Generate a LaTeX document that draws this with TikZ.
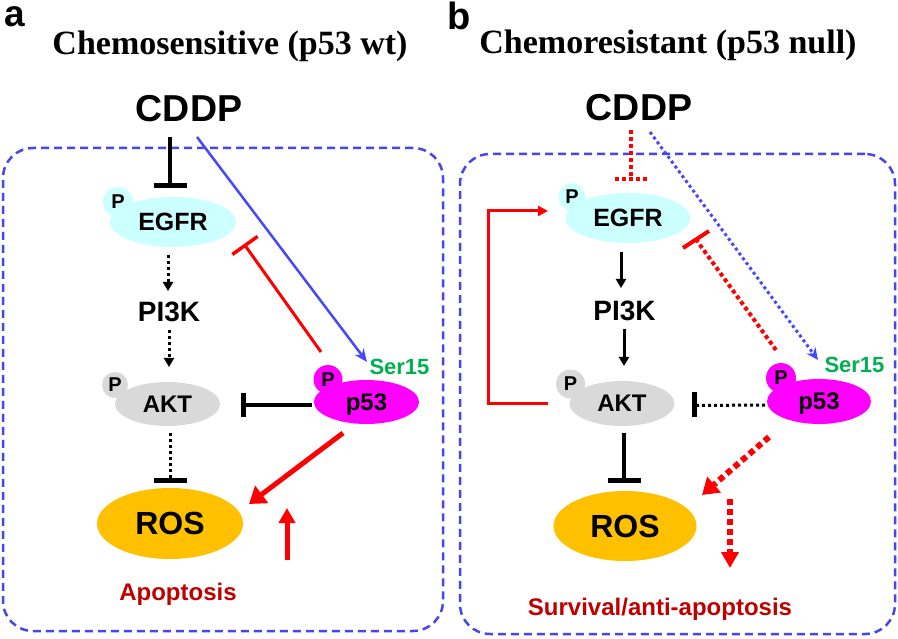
\documentclass[tikz,border=0pt]{standalone}
\usepackage{fontspec}
\newfontfamily\arialf{Liberation Sans}
\newfontfamily\timesf{Liberation Serif}
\usetikzlibrary{arrows.meta,shapes.geometric}
\definecolor{egfrc}{HTML}{CCFFFF}
\definecolor{aktc}{HTML}{D9D9D9}
\definecolor{p53c}{HTML}{FF00FF}
\definecolor{rosc}{HTML}{FFC000}
\definecolor{bluel}{HTML}{4848F8}
\definecolor{boxc}{HTML}{4646EE}
\definecolor{redl}{HTML}{FF0000}
\definecolor{dred}{HTML}{C00000}
\definecolor{serc}{HTML}{00B050}
\begin{document}
\begin{tikzpicture}[x=1pt,y=-1pt,
  every node/.style={inner sep=0pt},
  tf/.style={font=\arialf\bfseries\fontsize{#1}{#1}\selectfont},
  ttl/.style={font=\timesf\bfseries\fontsize{34}{36}\selectfont, anchor=base},
  mol/.style={ellipse, tf=24, text depth=0pt},
  pcirc/.style={circle, tf=20, text depth=0pt},
  cellbox/.style={draw=boxc, line width=2.5pt, dash pattern=on 8pt off 5pt, rounded corners=30pt},
  inh/.style={line width=3.5pt, -{Bar[width=33pt,line width=5pt]}},
  inhs/.style={line width=3.5pt, -{Bar[width=24pt,line width=5pt]}},
  kdot/.style={line width=3pt, dash pattern=on 3pt off 3pt},
  karr/.style={line width=3pt, -{Triangle[width=10pt,length=9pt]}},
  rdot/.style={redl, line width=4pt, dash pattern=on 4pt off 3pt},
  rbig/.style={redl, line width=5pt, -{Triangle[width=21pt,length=16pt]}},
]
\useasboundingbox[fill=white] (0,0) rectangle (898,639);

% ---------------- panel a ----------------
\node[cellbox, minimum width=440pt, minimum height=483pt] (cellA) at (223,389.5) {};
\node[tf=37, anchor=base west] (labA) at (4,27) {a};
\node[ttl] (titleA) at (230,55) {Chemosensitive (p53 wt)};
\node[tf=37.5, anchor=base] (cddpA) at (189,122) {CDDP};

\node[mol, fill=egfrc, minimum width=126pt, minimum height=50pt, tf=25] (egfrA) at (173,222) {EGFR};
\node[pcirc, fill=egfrc, minimum size=30pt] (pegfrA) at (118,202) {P};
\node[tf=28, anchor=base] (pi3kA) at (169,322) {PI3K};
\node[mol, fill=aktc, minimum width=105pt, minimum height=44pt] (aktA) at (167.5,404) {AKT};
\node[pcirc, fill=aktc, minimum size=26pt] (paktA) at (115,385) {P};
\node[mol, fill=p53c, minimum width=105pt, minimum height=44pt] (p53A) at (366.5,402) {p53};
\node[pcirc, fill=p53c, minimum size=29pt] (pp53A) at (328,379.5) {P};
\node[tf=22, anchor=base, text=serc] (serA) at (399.5,375) {Ser15};
\node[ellipse, fill=rosc, minimum width=146pt, minimum height=71pt, tf=32, text depth=0pt] (rosA) at (170,523.5) {ROS};
\node[tf=24, anchor=base, text=dred] (apopA) at (178,600) {Apoptosis};

\draw[inh] ([shift={(-19,15)}]cddpA.base) -- ([shift={(-3,-34)}]egfrA.center);
\draw[bluel, line width=2.5pt, -{Stealth[width=11pt,length=13pt]}] ([shift={(8,15)}]cddpA.base) -- ([shift={(0.5,-40)}]p53A.center);
\draw[redl, line width=3pt, -{Bar[width=31pt,line width=3.5pt]}] ([shift={(-45.5,-50)}]p53A.center) -- ([shift={(71,22)}]egfrA.center);
\draw[kdot, -{Triangle[width=10pt,length=9pt]}] ([shift={(-5,33)}]egfrA.center) -- ([shift={(-1,-31)}]pi3kA.base);
\draw[kdot, -{Triangle[width=10pt,length=9pt]}] ([shift={(0,8)}]pi3kA.base) -- ([shift={(1.5,-37)}]aktA.center);
\draw[inhs] ([shift={(-54.5,3)}]p53A.center) -- ([shift={(73.5,1)}]aktA.center);
\draw[kdot] ([shift={(2.5,29)}]aktA.center) -- ([shift={(0,-44)}]rosA.center);
\draw[line width=5pt] ([shift={(-16.5,-43)}]rosA.center) -- ([shift={(16.5,-43)}]rosA.center);
\draw[rbig] ([shift={(-23.5,31)}]p53A.center) -- ([shift={(79,-19.5)}]rosA.center);
\draw[redl, line width=5pt, -{Triangle[width=16pt,length=15pt]}] ([shift={(117,36.5)}]rosA.center) -- ([shift={(117,-15.5)}]rosA.center);

% ---------------- panel b ----------------
\node[cellbox, minimum width=435pt, minimum height=480pt] (cellB) at (677.5,394) {};
\node[tf=38, anchor=base west] (labB) at (447,30) {b};
\node[ttl] (titleB) at (668,54) {Chemoresistant (p53 null)};
\node[tf=37.5, anchor=base] (cddpB) at (639,121) {CDDP};

\node[mol, fill=egfrc, minimum width=125pt, minimum height=50pt, tf=25] (egfrB) at (628,218) {EGFR};
\node[pcirc, fill=egfrc, minimum size=27pt] (pegfrB) at (572,197) {P};
\node[tf=28, anchor=base] (pi3kB) at (624.5,321) {PI3K};
\node[mol, fill=aktc, minimum width=105pt, minimum height=45pt] (aktB) at (622,403.5) {AKT};
\node[pcirc, fill=aktc, minimum size=29pt] (paktB) at (570.5,384) {P};
\node[mol, fill=p53c, minimum width=104pt, minimum height=45pt] (p53B) at (819,401.5) {p53};
\node[pcirc, fill=p53c, minimum size=30pt] (pp53B) at (781,378) {P};
\node[tf=22, anchor=base, text=serc] (serB) at (854.5,373) {Ser15};
\node[ellipse, fill=rosc, minimum width=143pt, minimum height=70pt, tf=32, text depth=0pt] (rosB) at (625,526) {ROS};
\node[tf=24, anchor=base, text=dred] (survB) at (660,615) {Survival/anti-apoptosis};

\draw[rdot, line width=4.5pt] ([shift={(-8,9)}]cddpB.base) -- ([shift={(3,-39)}]egfrB.center) ++(-16,0) -- ++(33,0);
\draw[bluel, line width=3pt, dash pattern=on 3pt off 3pt, -{Stealth[width=11pt,length=12pt]}] ([shift={(11,11)}]cddpB.base) -- ([shift={(-1,-41.5)}]p53B.center);
\draw[redl, line width=3pt, -{Triangle[width=10pt,length=10pt]}] ([shift={(-74,0.5)}]aktB.center) -- ++(-60,0) |- ([shift={(-80,-7)}]egfrB.center);
\draw[rdot] ([shift={(-43,-51.5)}]p53B.center) -- ([shift={(68,21.5)}]egfrB.center);
\draw[redl, line width=4pt] ([shift={(55,30)}]egfrB.center) -- ([shift={(81,13)}]egfrB.center);
\draw[karr] ([shift={(-7,34)}]egfrB.center) -- ([shift={(-3.5,-33)}]pi3kB.base);
\draw[karr] ([shift={(-0.5,8)}]pi3kB.base) -- ([shift={(2,-37.5)}]aktB.center);
\draw[kdot] ([shift={(-54,3.5)}]p53B.center) -- ([shift={(75,2)}]aktB.center);
\draw[line width=5pt] ([shift={(72,-11.5)}]aktB.center) -- ([shift={(72,13.5)}]aktB.center);
\draw[inh] ([shift={(2,29.5)}]aktB.center) -- ([shift={(-1,-43)}]rosB.center);
\draw[redl, line width=6pt, dash pattern=on 6pt off 4pt, -{Triangle[width=20pt,length=16pt]}] ([shift={(-50,35.5)}]p53B.center) -- ([shift={(77,-31)}]rosB.center);
\draw[redl, line width=6pt, dash pattern=on 6pt off 4pt, -{Triangle[width=17pt,length=16pt]}] ([shift={(105,-27)}]rosB.center) -- ([shift={(105,42)}]rosB.center);
\end{tikzpicture}
\end{document}
